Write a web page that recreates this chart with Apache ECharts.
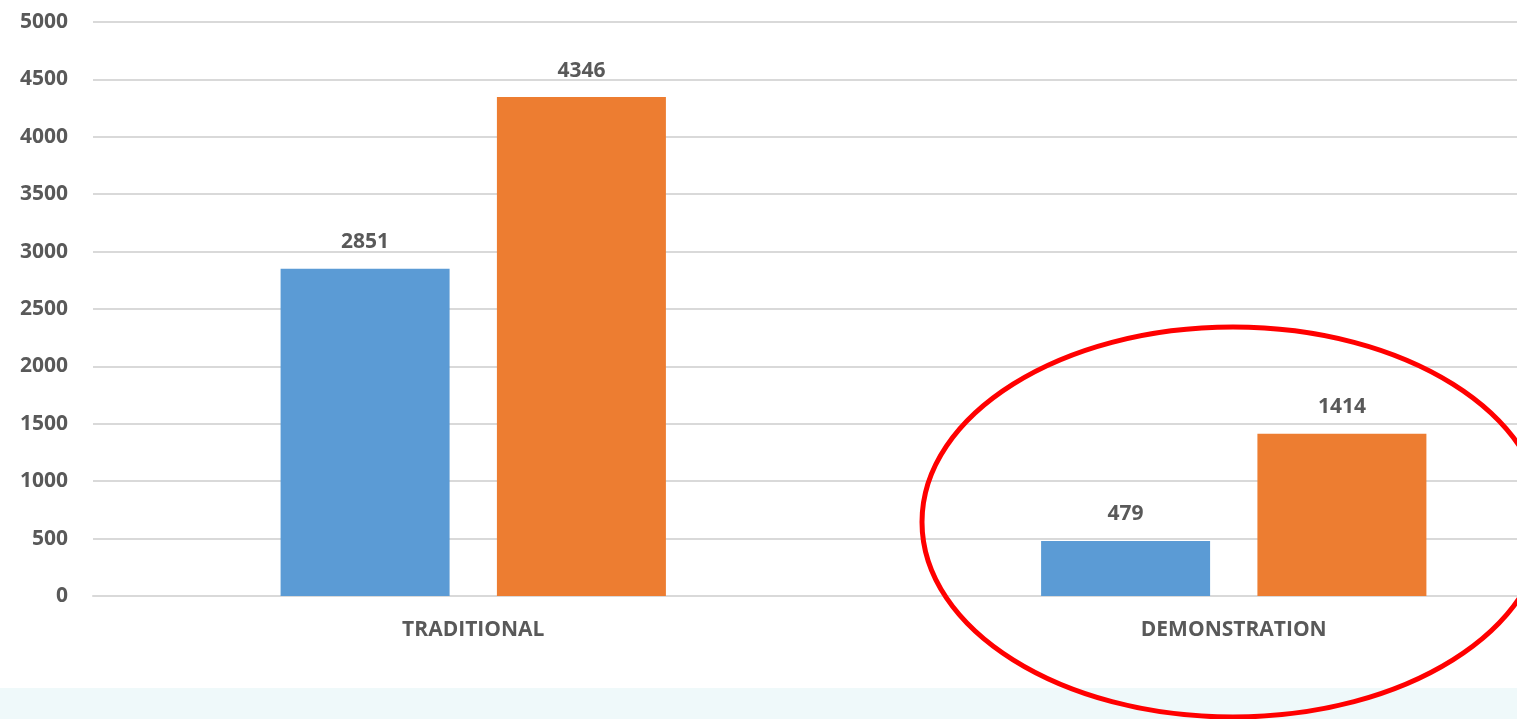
<!DOCTYPE html>
<html>
<head>
<meta charset="utf-8">
<script src="https://cdn.jsdelivr.net/npm/echarts@6/dist/echarts.min.js"></script>
<style>
  html, body { margin: 0; padding: 0; background: #fff; overflow: hidden; }
  /* plot area runs past the right edge of the window, as in the source */
  #main { width: 1614px; height: 719px; }
</style>
</head>
<body>
<div id="main"></div>
<script>
// data
var categories = ['TRADITIONAL', 'DEMONSTRATION'];
var seriesA = [2851, 479];
var seriesB = [4346, 1414];

var chartDom = document.getElementById('main');
var myChart = echarts.init(chartDom);

var labelFont = {
  fontFamily: 'Open Sans, Arial, sans-serif',
  fontWeight: 'bold',
  fontSize: 21,
  color: '#595959'
};

var option = {
  animation: false,
  grid: {
    left: 93,
    right: 0,
    top: 22,
    bottom: 123
  },
  xAxis: {
    type: 'category',
    data: categories,
    axisTick: { show: false },
    axisLine: { lineStyle: { color: '#D9D9D9', width: 2 } },
    axisLabel: Object.assign({ margin: 24 }, labelFont)
  },
  yAxis: {
    type: 'value',
    min: 0,
    max: 5000,
    interval: 500,
    axisLine: { show: false },
    axisTick: { show: false },
    splitLine: { lineStyle: { color: '#D9D9D9', width: 2 } },
    axisLabel: Object.assign({ margin: 25, formatter: v => String(v) }, labelFont)
  },
  series: [
    {
      name: 'Series 1',
      type: 'bar',
      data: seriesA,
      barWidth: 169,
      barGap: '28%',
      itemStyle: { color: '#5B9BD5' },
      label: Object.assign({ show: true, position: 'top', distance: 16 }, labelFont)
    },
    {
      name: 'Series 2',
      type: 'bar',
      data: seriesB,
      barWidth: 169,
      itemStyle: { color: '#ED7D31' },
      label: Object.assign({ show: true, position: 'top', distance: 16 }, labelFont)
    }
  ],
  graphic: [
    {
      type: 'rect',
      z: -10,
      shape: { x: 0, y: 688, width: 1614, height: 31 },
      style: { fill: '#EFF9FA' }
    },
    {
      type: 'ellipse',
      z: 100,
      shape: { cx: 1233, cy: 522, rx: 311, ry: 195 },
      style: { fill: 'none', stroke: '#FF0000', lineWidth: 5 }
    }
  ]
};

myChart.setOption(option);

window.addEventListener('resize', () => myChart.resize());
</script>
</body>
</html>
